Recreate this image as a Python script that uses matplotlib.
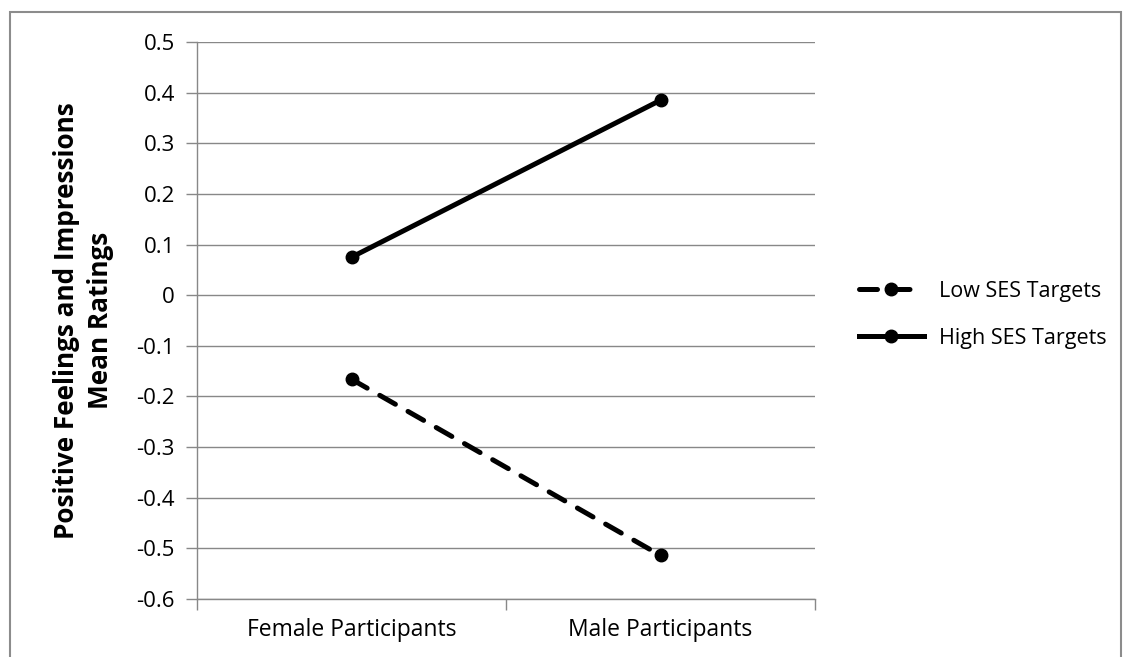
import matplotlib
matplotlib.use("Agg")
import matplotlib.pyplot as plt
from matplotlib.patches import Rectangle

plt.rcParams["font.family"] = ["Open Sans", "DejaVu Sans"]

categories = ["Female Participants", "Male Participants"]
low_ses = [-0.166, -0.514]
high_ses = [0.075, 0.385]
y_ticks = [0.5, 0.4, 0.3, 0.2, 0.1, 0.0, -0.1, -0.2, -0.3, -0.4, -0.5, -0.6]
y_labels = ["0.5", "0.4", "0.3", "0.2", "0.1", "0", "-0.1", "-0.2", "-0.3",
            "-0.4", "-0.5", "-0.6"]

GRID = "#888888"

fig = plt.figure(figsize=(11.24, 6.57), dpi=100)
ax = fig.add_axes([0.1753, 0.0883, 0.5498, 0.8478])

# outer chart border like the Excel frame
fig.patches.append(Rectangle((10 / 1124, -0.05), 1111 / 1124, 1.05 - 12 / 657,
                             transform=fig.transFigure, fill=False,
                             edgecolor="#8c8c8c", linewidth=1.5))

x = [0.5, 1.5]
ax.plot(x, low_ses, color="black", linewidth=3.6, marker="o", markersize=9,
        dashes=(3.6, 2.9), dash_capstyle="round", label="Low SES Targets")
ax.plot(x, high_ses, color="black", linewidth=3.6, marker="o", markersize=9,
        label="High SES Targets")

ax.set_xlim(0, 2)
ax.set_ylim(-0.6, 0.5)
ax.set_yticks(y_ticks)
ax.set_yticklabels(y_labels)
ax.yaxis.grid(True, color=GRID, linewidth=1)
ax.set_axisbelow(True)

ax.set_xticks([0, 1, 2])
ax.set_xticklabels([])
ax.set_xticks(x, minor=True)
ax.set_xticklabels(categories, minor=True)
ax.tick_params(axis="x", which="minor", length=0, pad=14, labelsize=16.5)
ax.tick_params(axis="x", which="major", length=8, color=GRID, width=1)
ax.tick_params(axis="y", length=8, color=GRID, width=1, labelsize=16, pad=8)

for s in ["top", "right"]:
    ax.spines[s].set_visible(False)
for s in ["left", "bottom"]:
    ax.spines[s].set_color(GRID)
    ax.spines[s].set_linewidth(1)

ax.set_ylabel("Positive Feelings and Impressions\nMean Ratings",
              fontsize=18.8, fontweight="bold", linespacing=1.3)
ax.yaxis.set_label_coords(-0.135, 0.5)

ax.legend(loc="center left", bbox_to_anchor=(1.04, 0.51), frameon=False,
          fontsize=15.5, handlelength=3.0, handletextpad=0.7, labelspacing=1.2)

fig.savefig("out.png", dpi=100)
